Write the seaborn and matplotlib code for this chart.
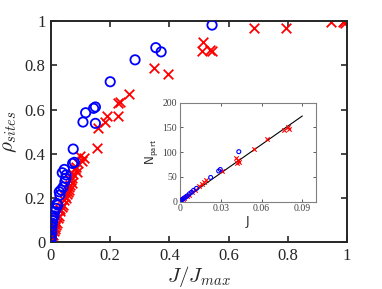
import numpy as np
import pandas as pd
import matplotlib
matplotlib.use("Agg")
import matplotlib.pyplot as plt
import seaborn as sns

# === DATA ===
# main panel: rho_sites vs J/Jmax
blue_x = [0.354, 0.372, 0.284, 0.200, 0.150, 0.144, 0.117, 0.108, 0.150, 0.544,
          0.075, 0.073, 0.079, 0.045, 0.038, 0.051, 0.050, 0.047, 0.034, 0.028,
          0.030, 0.023, 0.017, 0.013, 0.008, 0.004, 0.003, 0.002, 0.002, 0.000,
          0.001, 0.020, 0.010, 0.006, 0.041]
blue_y = [0.880, 0.861, 0.825, 0.726, 0.612, 0.606, 0.586, 0.544, 0.538, 0.982,
          0.422, 0.357, 0.362, 0.330, 0.315, 0.305, 0.290, 0.275, 0.237, 0.229,
          0.214, 0.169, 0.154, 0.139, 0.109, 0.087, 0.072, 0.056, 0.042, 0.026,
          0.018, 0.175, 0.120, 0.098, 0.250]

red_x = [0.349, 0.396, 0.263, 0.233, 0.225, 0.227, 0.189, 0.183, 0.159, 0.154,
         0.512, 0.510, 0.544, 0.536, 0.687, 0.795, 0.947, 0.986, 0.994, 0.990,
         0.098, 0.105, 0.110, 0.090, 0.085, 0.080, 0.075, 0.070, 0.067, 0.065,
         0.060, 0.057, 0.053, 0.050, 0.045, 0.040, 0.036, 0.032, 0.028, 0.025,
         0.020, 0.017, 0.013, 0.010, 0.007, 0.005, 0.003, 0.088, 0.072, 0.062,
         0.046, 0.031, 0.015, 0.002]
red_y = [0.786, 0.762, 0.670, 0.636, 0.628, 0.570, 0.570, 0.543, 0.516, 0.425,
         0.907, 0.865, 0.865, 0.870, 0.970, 0.970, 0.997, 0.994, 0.991, 1.000,
         0.390, 0.370, 0.380, 0.360, 0.340, 0.330, 0.310, 0.290, 0.280, 0.260,
         0.250, 0.230, 0.220, 0.200, 0.190, 0.170, 0.160, 0.140, 0.120, 0.110,
         0.090, 0.080, 0.060, 0.050, 0.035, 0.025, 0.015, 0.320, 0.270, 0.235,
         0.210, 0.150, 0.070, 0.040]

# inset: N_part vs J
in_blue_x = [0.0433, 0.0297, 0.0285, 0.0226, 0.0122, 0.0100, 0.0085, 0.0070,
             0.0055, 0.0045, 0.0035, 0.0025, 0.0015, 0.0008]
in_blue_y = [101, 65, 62, 49, 27, 23, 19, 16, 12, 10, 8, 6, 4, 2]
in_red_x = [0.0409, 0.0426, 0.0420, 0.0433, 0.0547, 0.0640, 0.0766, 0.0796,
            0.0800, 0.0310, 0.0190, 0.0175, 0.0160, 0.0140, 0.0110, 0.0090,
            0.0065, 0.0050, 0.0030, 0.0020, 0.0010]
in_red_y = [88, 84, 79, 81, 106, 127, 144, 150, 146, 62, 44, 40, 36, 31, 24, 19,
            14, 11, 7, 5, 2]
fit_x = [0.0, 0.09]
fit_y = [0.0, 173.0]

main_ticks = [0, 0.2, 0.4, 0.6, 0.8, 1]
main_ticklabels = ["0", "0.2", "0.4", "0.6", "0.8", "1"]
inset_xticks = [0, 0.03, 0.06, 0.09]
inset_xticklabels = ["0", "0.03", "0.06", "0.09"]
inset_yticks = [0, 50, 100, 150, 200]

# === SETTINGS ===
sns.set_theme(style="ticks")
plt.rcParams["font.family"] = ["Liberation Serif", "DejaVu Serif"]
plt.rcParams["mathtext.fontset"] = "cm"

fig = plt.figure(figsize=(3.82, 2.89), dpi=100)
ax = fig.add_axes([0.1335, 0.161, 0.775, 0.766])

sns.scatterplot(x=blue_x, y=blue_y, ax=ax, marker="o", s=45,
                facecolors="none", edgecolors="blue", linewidth=1.3, zorder=3)
sns.scatterplot(x=red_x, y=red_y, ax=ax, marker="x", s=48,
                color="red", linewidth=1.3, zorder=2)

ax.set_xlim(0, 1)
ax.set_ylim(0, 1)
ax.set_xticks(main_ticks)
ax.set_xticklabels(main_ticklabels)
ax.set_yticks(main_ticks)
ax.set_yticklabels(main_ticklabels)
ax.tick_params(direction="in", top=True, right=True, length=4, width=1.2,
               labelsize=12, pad=4, colors="#262626")
for s in ax.spines.values():
    s.set_visible(True)
    s.set_linewidth(1.4)
    s.set_color("#262626")
ax.set_xlabel(r"$J/J_{max}$", fontsize=15, labelpad=0)
ax.set_ylabel(r"$\rho_{sites}$", fontsize=15, labelpad=4)

# === INSET ===
ax2 = fig.add_axes([0.471, 0.302, 0.356, 0.343])
sns.lineplot(x=fit_x, y=fit_y, ax=ax2, color="black", linewidth=0.8)
sns.scatterplot(x=in_blue_x, y=in_blue_y, ax=ax2, marker="o", s=8,
                facecolors="none", edgecolors="blue", linewidth=0.8, zorder=3)
sns.scatterplot(x=in_red_x, y=in_red_y, ax=ax2, marker="x", s=10,
                color="red", linewidth=0.8, zorder=2)
ax2.set_xlim(0, 0.1)
ax2.set_ylim(0, 200)
ax2.set_xticks(inset_xticks)
ax2.set_xticklabels(inset_xticklabels)
ax2.set_yticks(inset_yticks)
ax2.tick_params(direction="in", top=True, right=True, length=2, width=0.6,
                labelsize=7, pad=2, colors="#404040")
for s in ax2.spines.values():
    s.set_visible(True)
    s.set_linewidth(0.8)
    s.set_color("#808080")
ax2.set_xlabel("J", fontsize=9, family="DejaVu Sans", labelpad=1)
ax2.set_ylabel(r"$\mathsf{N}_{\mathsf{part}}$", fontsize=9, labelpad=1)

fig.savefig("out.png", dpi=100)
